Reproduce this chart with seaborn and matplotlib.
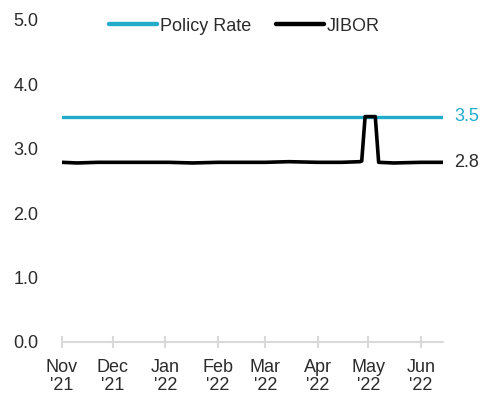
import matplotlib
matplotlib.use("Agg")
import matplotlib.pyplot as plt
import seaborn as sns
import pandas as pd

policy_dates = ["2021-11-01", "2022-06-14"]
policy_values = [3.5, 3.5]

jibor_dates = ["2021-11-01", "2021-11-10", "2021-11-22", "2021-12-01", "2021-12-15",
               "2022-01-03", "2022-01-17", "2022-02-01", "2022-02-15", "2022-03-01",
               "2022-03-15", "2022-04-01", "2022-04-15", "2022-04-26", "2022-04-27",
               "2022-04-29", "2022-05-05", "2022-05-07", "2022-05-16", "2022-06-01",
               "2022-06-14"]
jibor_values = [2.79, 2.78, 2.79, 2.79, 2.79,
                2.79, 2.78, 2.79, 2.79, 2.79,
                2.80, 2.79, 2.79, 2.80, 2.81,
                3.50, 3.50, 2.79, 2.78, 2.79,
                2.79]

tick_dates = ["2021-11-01", "2021-12-01", "2022-01-01", "2022-02-01",
              "2022-03-01", "2022-04-01", "2022-05-01", "2022-06-01"]
tick_labels = ["Nov\n'21", "Dec\n'21", "Jan\n'22", "Feb\n'22",
               "Mar\n'22", "Apr\n'22", "May\n'22", "Jun\n'22"]
y_ticks = [0.0, 1.0, 2.0, 3.0, 4.0, 5.0]

policy_df = pd.DataFrame({"date": pd.to_datetime(policy_dates), "value": policy_values})
jibor_df = pd.DataFrame({"date": pd.to_datetime(jibor_dates), "value": jibor_values})

sns.set_style("white")
plt.rcParams["font.family"] = ["Liberation Sans", "DejaVu Sans"]

CYAN = "#22abcb"
TXT = "#2b2b2b"
FS = 13

fig = plt.figure(figsize=(4.81, 4.0), dpi=100)
ax = fig.add_axes([62 / 481, 58 / 400, (443 - 62) / 481, (342 - 20) / 400])

sns.lineplot(data=policy_df, x="date", y="value", ax=ax, color=CYAN, linewidth=2.4,
             label="Policy Rate", solid_capstyle="round")
sns.lineplot(data=jibor_df, x="date", y="value", ax=ax, color="black", linewidth=2.6,
             label="JIBOR", solid_capstyle="round")

ax.set_xlim(pd.Timestamp("2021-11-01"), pd.Timestamp("2022-06-14"))
ax.set_ylim(0, 5)
ax.set_yticks(y_ticks)
ax.set_yticklabels([f"{v:.1f}" for v in y_ticks], fontsize=FS, color=TXT)
ax.set_xticks(pd.to_datetime(tick_dates))
ax.set_xticklabels(tick_labels, fontsize=FS, color=TXT, linespacing=1.05)
ax.set_xlabel("")
ax.set_ylabel("")

for s in ["top", "right", "left"]:
    ax.spines[s].set_visible(False)
ax.spines["bottom"].set_color("#d9d9d9")
ax.spines["bottom"].set_linewidth(1.5)
ax.spines["bottom"].set_capstyle("round")
ax.tick_params(axis="x", bottom=True, direction="inout", length=9, width=1.5,
               color="#d9d9d9", pad=8)
ax.tick_params(axis="y", left=False, length=0, pad=17)
ax.grid(False)

ax.text(1.03, 3.5, "3.5", transform=ax.get_yaxis_transform(), color=CYAN,
        fontsize=FS, va="center", ha="left")
ax.text(1.03, 2.79, "2.8", transform=ax.get_yaxis_transform(), color=TXT,
        fontsize=FS, va="center", ha="left")

leg = ax.legend(loc="upper center", bbox_to_anchor=(0.479, 1.058), ncol=2, frameon=False,
                fontsize=FS, handlelength=2.65, handletextpad=0.15, columnspacing=1.4)
for t in leg.get_texts():
    t.set_color(TXT)
for h in leg.get_lines():
    h.set_linewidth(3.2)
    h.set_solid_capstyle("round")

fig.savefig("out.png", dpi=100)
